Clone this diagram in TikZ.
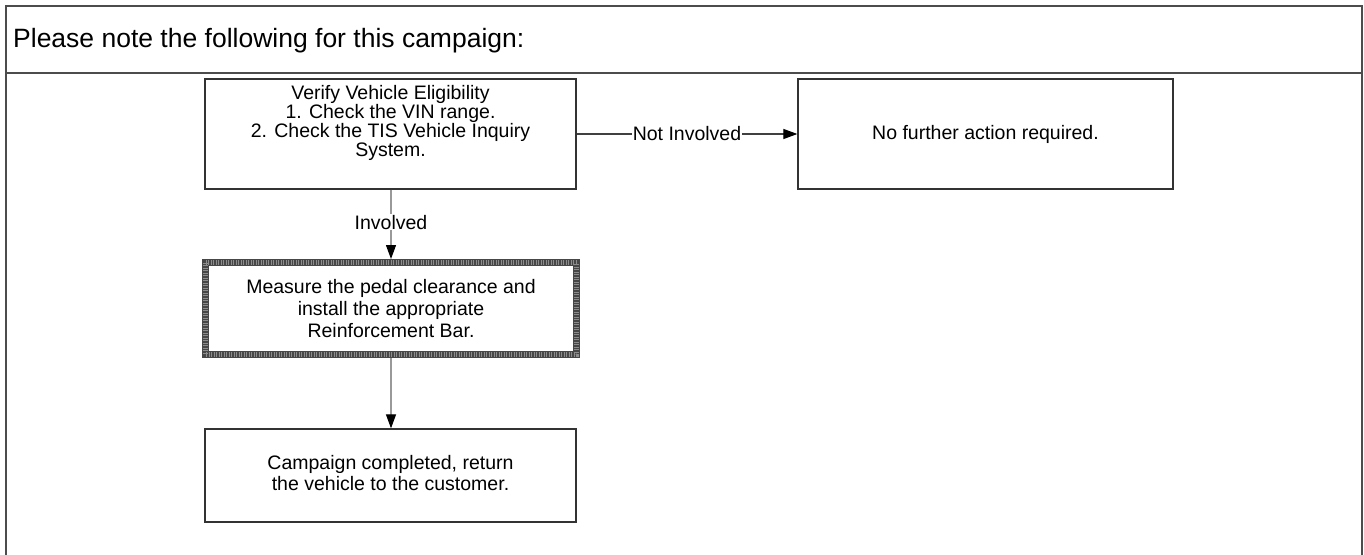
\documentclass[tikz,border=0pt]{standalone}
\usepackage{fontspec}
\setmainfont{Liberation Sans}
\usetikzlibrary{arrows.meta}
\tikzset{
  stepbox/.style={draw=black!80, line width=1.3pt, fill=white, align=center, inner sep=0pt,
    font=\fontsize{19.5}{22}\selectfont, minimum width=371pt},
  thickbox/.style={stepbox, draw=black!72, line width=7pt},
  texture/.style={draw=black!45, line width=5pt, dash pattern=on 1pt off 1.5pt},
  boxtext/.style={align=center, inner sep=0pt, font=\fontsize{19.5}{19}\selectfont},
  tip/.style={-{Triangle[length=14pt,width=10pt,black]}},
  conn/.style={draw=black!40, line width=1.2pt, tip},
  hconn/.style={draw=black!75, line width=1.2pt, tip},
  lbl/.style={fill=white, inner sep=1pt, font=\fontsize{19.5}{22}\selectfont},
  frame/.style={draw=black!70, line width=2pt}
}
\begin{document}
\begin{tikzpicture}[x=1pt,y=-1pt]
\useasboundingbox (0,0) rectangle (1364,554);
% outer frame
\draw[frame] (6,560) -- (6,6) -- (1361.5,6) -- (1361.5,560);
\draw[frame] (6,73) -- (1361.5,73);
\node[anchor=base west, font=\fontsize{26.5}{30}\selectfont, inner sep=0pt] (title) at (13,47) {Please note the following for this campaign:};
% boxes
\node[stepbox, minimum height=110pt] (verify) at (390.5,134) {};
\node[boxtext] (verifytext) at (390.5,122.5) {Verify Vehicle Eligibility\\1. Check the VIN range.\\2. Check the TIS Vehicle Inquiry\\System.};
\node[stepbox, minimum width=375pt, minimum height=110pt] (nofurther) at (985.5,134) {No further action required.};
\node[thickbox, minimum height=92pt] (measure) at (391,308.5) {Measure the pedal clearance and\\install the appropriate\\Reinforcement Bar.};
\draw[texture] ([shift={(3.5pt,-3.5pt)}]measure.north west) rectangle ([shift={(-3.5pt,3.5pt)}]measure.south east);
\node[stepbox, minimum height=93pt] (done) at (390.5,475.5) {\raisebox{-2pt}{\begin{tabular}{@{}c@{}}Campaign completed, return\\[-1pt]the vehicle to the customer.\end{tabular}}};
% connectors
\draw[hconn] (verify.east) -- node[lbl] {Not Involved} (nofurther.west);
\draw[conn] (verify.south -| measure.north) -- node[lbl, yshift=2pt] {Involved} (measure.north);
\draw[conn] (measure.south) -- (done.north -| measure.south);
\end{tikzpicture}
\end{document}
